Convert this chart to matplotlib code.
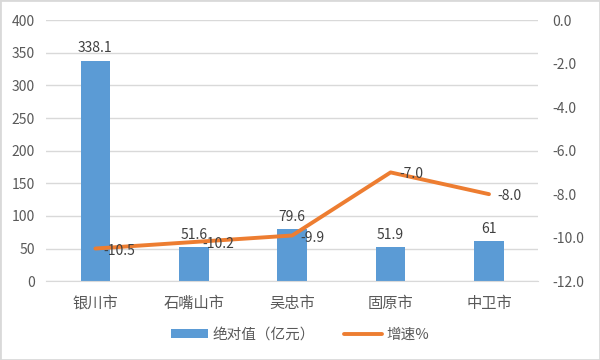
import matplotlib
matplotlib.use("Agg")
import matplotlib.pyplot as plt
import numpy as np

plt.rcParams['font.family'] = ['Noto Sans CJK SC', 'DejaVu Sans']

cities = ['银川市', '石嘴山市', '吴忠市', '固原市', '中卫市']
values = [338.1, 51.6, 79.6, 51.9, 61]
value_labels = ['338.1', '51.6', '79.6', '51.9', '61']
growth = [-10.5, -10.2, -9.9, -7.0, -8.0]

bar_color = '#5B9BD5'
line_color = '#ED7D31'
text_color = '#595959'
grid_color = '#D9D9D9'

fig = plt.figure(figsize=(6, 3.6), dpi=100)
ax = fig.add_axes([0.077, 0.219, 0.82, 0.725])
x = np.arange(len(cities))
bars = ax.bar(x, values, width=0.3, color=bar_color, zorder=2, label='绝对值（亿元）')
ax.set_xlim(-0.5, len(cities) - 0.5)
ax.set_ylim(0, 400)
ax.set_yticks(np.arange(0, 401, 50))
ax.yaxis.grid(True, color=grid_color, linewidth=1, zorder=0)
ax.set_axisbelow(True)
for s in ['top', 'right', 'left']:
    ax.spines[s].set_visible(False)
ax.spines['bottom'].set_color(grid_color)
ax.tick_params(axis='both', length=0, colors=text_color, labelsize=10)
ax.tick_params(axis='x', pad=10, labelsize=11)
ax.tick_params(axis='y', pad=8)
ax.set_xticks(x)
ax.set_xticklabels(cities)
for xi, v, lab in zip(x, values, value_labels):
    ax.annotate(lab, (xi, v), xytext=(0, 4), textcoords='offset points',
                ha='center', va='bottom', fontsize=10, color='#404040')

ax2 = ax.twinx()
line, = ax2.plot(x, growth, color=line_color, linewidth=2.8, zorder=3, label='增速%',
                 solid_capstyle='round')
ax2.set_ylim(-12, 0)
ax2.set_yticks(np.arange(-12, 0.1, 2))
ax2.set_yticklabels([f'{t:.1f}' for t in np.arange(-12, 0.1, 2)])
for s in ['top', 'right', 'left', 'bottom']:
    ax2.spines[s].set_visible(False)
ax2.tick_params(axis='y', length=0, colors=text_color, labelsize=10, pad=10)
for xi, g in zip(x, growth):
    ax2.annotate(f'{g:.1f}', (xi, g), xytext=(6, -1.5), textcoords='offset points',
                 ha='left', va='center', fontsize=10, color='#404040')

fig.legend([bars, line], ['绝对值（亿元）', '增速%'], loc='center', bbox_to_anchor=(0.5, 0.07),
           ncol=2, frameon=False, fontsize=10.5, labelcolor=text_color,
           handlelength=2.6, handleheight=0.55, columnspacing=2.0, handletextpad=0.3)

fig.patches.append(matplotlib.patches.Rectangle((0, 0), 1, 1, transform=fig.transFigure,
                                                fill=False, edgecolor='#D9D9D9', linewidth=2))
fig.savefig('out.png', dpi=100)
